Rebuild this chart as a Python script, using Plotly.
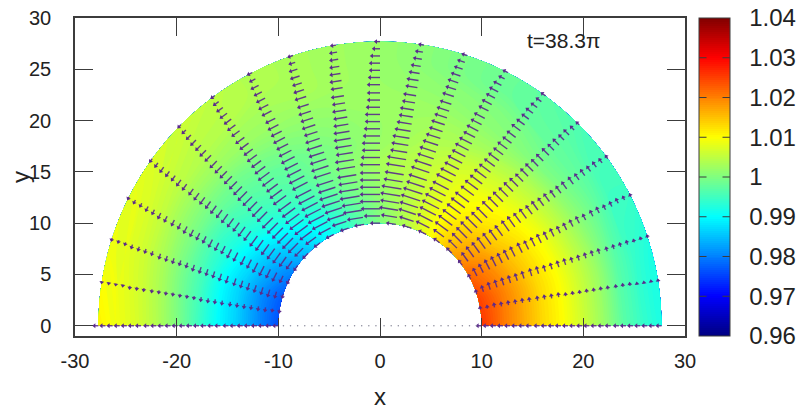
import math
import plotly.graph_objects as go

# ---- data ----
FIELD_R = [10, 12, 14, 16, 18, 20, 22, 24, 26, 27.7]
FIELD_THETA = [0, 15, 30, 45, 60, 75, 90, 105, 120, 135, 150, 165, 180]
FIELD_Z = [
    [1.026, 1.025, 1.022, 1.017, 1.010, 1.004, 1.000, 0.995, 0.990, 0.985, 0.980, 0.977, 0.976],
    [1.021, 1.021, 1.019, 1.015, 1.010, 1.005, 1.001, 0.997, 0.992, 0.988, 0.984, 0.981, 0.981],
    [1.017, 1.017, 1.015, 1.012, 1.009, 1.005, 1.002, 0.999, 0.995, 0.992, 0.988, 0.986, 0.986],
    [1.013, 1.013, 1.012, 1.010, 1.008, 1.005, 1.003, 1.000, 0.997, 0.995, 0.992, 0.990, 0.990],
    [1.010, 1.010, 1.009, 1.007, 1.006, 1.004, 1.002, 1.000, 0.998, 0.997, 0.995, 0.995, 0.995],
    [1.006, 1.006, 1.005, 1.004, 1.003, 1.003, 1.002, 1.001, 1.000, 0.999, 0.999, 0.999, 1.000],
    [1.002, 1.002, 1.001, 1.000, 1.001, 1.002, 1.002, 1.002, 1.002, 1.002, 1.002, 1.003, 1.004],
    [0.997, 0.997, 0.998, 0.998, 1.000, 1.001, 1.002, 1.003, 1.003, 1.004, 1.005, 1.006, 1.007],
    [0.994, 0.994, 0.995, 0.997, 0.998, 1.000, 1.002, 1.003, 1.004, 1.005, 1.007, 1.008, 1.009],
    [0.992, 0.992, 0.995, 0.996, 0.998, 1.000, 1.002, 1.003, 1.004, 1.006, 1.008, 1.009, 1.011],
]
ARROW_R = [10.0, 10.7, 11.4, 12.1, 12.8, 13.5, 14.2, 14.9, 15.7, 16.4, 17.1, 17.8, 18.5,
           19.2, 19.9, 20.6, 21.3, 22.0, 22.7, 23.5, 24.2, 24.9, 25.6, 26.3, 27.0, 27.7]
# arrow length (tenths of an x unit) per spoke angle, inner radius to outer radius
ARROW_LEN = {
    0:   [1] * 26,
    9:   [2, 2, 3, 3, 3, 3, 3, 3, 3, 3, 3, 3, 2, 2, 2, 2, 2, 2, 2, 2, 2, 2, 1, 1, 1, 1],
    18:  [3, 5, 6, 6, 6, 6, 6, 6, 6, 6, 5, 5, 5, 5, 4, 4, 4, 4, 4, 3, 3, 3, 3, 2, 2, 2],
    27:  [4, 7, 8, 9, 9, 9, 9, 9, 9, 8, 8, 8, 7, 7, 6, 6, 6, 6, 5, 5, 5, 4, 4, 4, 3, 2],
    36:  [5, 9, 11, 11, 12, 12, 11, 11, 11, 11, 10, 10, 9, 9, 8, 8, 7, 7, 7, 7, 6, 6, 5, 5, 4, 3],
    45:  [6, 10, 12, 13, 14, 14, 13, 13, 13, 12, 12, 11, 11, 10, 9, 9, 9, 8, 8, 8, 7, 7, 6, 6, 4, 3],
    54:  [6, 11, 14, 15, 15, 15, 15, 15, 14, 14, 13, 13, 12, 11, 11, 10, 10, 9, 9, 9, 8, 7, 7, 6, 5, 4],
    63:  [7, 13, 15, 16, 17, 17, 16, 16, 16, 15, 14, 14, 13, 13, 12, 11, 11, 10, 10, 9, 9, 8, 8, 7, 5, 4],
    72:  [8, 13, 16, 17, 18, 18, 17, 17, 17, 16, 15, 15, 14, 13, 12, 12, 11, 11, 10, 10, 9, 9, 8, 7, 6, 4],
    81:  [8, 14, 17, 17, 18, 18, 17, 17, 17, 17, 15, 15, 15, 14, 13, 12, 12, 11, 11, 10, 10, 9, 8, 7, 6, 4],
    90:  [8, 14, 17, 18, 18, 18, 18, 18, 18, 17, 16, 16, 15, 14, 13, 13, 12, 11, 11, 11, 10, 9, 9, 8, 6, 4],
    99:  [8, 14, 17, 17, 18, 18, 17, 17, 17, 17, 15, 15, 15, 14, 13, 12, 12, 11, 11, 10, 10, 9, 8, 7, 6, 4],
    108: [7, 13, 16, 16, 17, 17, 16, 16, 16, 16, 15, 14, 14, 13, 12, 12, 11, 11, 10, 10, 9, 8, 8, 7, 5, 4],
    117: [7, 12, 15, 16, 16, 16, 16, 16, 15, 15, 14, 13, 13, 12, 11, 11, 10, 10, 9, 9, 9, 8, 7, 7, 5, 4],
    126: [6, 11, 13, 14, 15, 15, 14, 14, 14, 13, 12, 12, 12, 11, 10, 10, 9, 9, 9, 8, 8, 7, 7, 6, 5, 3],
    135: [6, 10, 12, 13, 13, 13, 13, 13, 12, 12, 11, 11, 11, 10, 9, 9, 8, 8, 8, 7, 7, 6, 6, 5, 4, 3],
    144: [5, 8, 10, 11, 11, 11, 11, 11, 10, 10, 9, 9, 9, 8, 8, 7, 7, 7, 6, 6, 6, 5, 5, 5, 4, 3],
    153: [4, 6, 8, 8, 9, 9, 8, 8, 8, 8, 7, 7, 7, 6, 6, 6, 6, 5, 5, 5, 5, 4, 4, 3, 3, 2],
    162: [3, 5, 6, 6, 6, 6, 6, 6, 6, 6, 5, 5, 5, 5, 4, 4, 4, 4, 4, 3, 3, 3, 3, 2, 2, 2],
    171: [2, 2, 3, 3, 3, 3, 3, 3, 3, 3, 3, 3, 2, 2, 2, 2, 2, 2, 2, 2, 2, 2, 1, 1, 1, 1],
    180: [1] * 26,
}
CENTER_DOTS_X = [-9.5, -8.8, -8.1, -7.4, -6.7, -6, -5.3, -4.6, -3.9, -3.2, -2.5, -1.8, -1.1, -0.4,
                 0.4, 1.1, 1.8, 2.5, 3.2, 3.9, 4.6, 5.3, 6, 6.7, 7.4, 8.1, 8.8, 9.5]
COLOR_TICKS = [0.96, 0.97, 0.98, 0.99, 1, 1.01, 1.02, 1.03, 1.04]
COLOR_TICK_TEXT = ["0.96", "0.97", "0.98", "0.99", "1", "1.01", "1.02", "1.03", "1.04"]
AXIS_X_TICKS = [-30, -20, -10, 0, 10, 20, 30]
AXIS_X_TEXT = ["-30", "-20", "-10", "0", "10", "20", "30"]
AXIS_Y_TICKS = [0, 5, 10, 15, 20, 25, 30]
ANNOTATION = "t=38.3π"

JET = [[0, "#000080"], [0.125, "#0000ff"], [0.25, "#0080ff"], [0.375, "#00ffff"],
       [0.5, "#80ff80"], [0.625, "#ffff00"], [0.75, "#ff8000"], [0.875, "#ff0000"], [1, "#800000"]]
FONT = "Liberation Sans, Arial, sans-serif"
INK = "#3c3c3c"
ARROW = "#5a2a8c"
BAR_X = 1.023

grid_x = [[r * math.cos(math.radians(t)) for t in FIELD_THETA] for r in FIELD_R]
grid_y = [[r * math.sin(math.radians(t)) for t in FIELD_THETA] for r in FIELD_R]

hidden_axis = dict(showgrid=False, showline=False, showticklabels="none", smoothing=1,
                   startline=False, endline=False, minorgridcount=0)
fig = go.Figure()
fig.add_trace(go.Carpet(a=FIELD_THETA, b=FIELD_R, x=grid_x, y=grid_y, carpet="polar",
                        aaxis=hidden_axis, baxis=hidden_axis))
fig.add_trace(go.Contourcarpet(
    a=FIELD_THETA, b=FIELD_R, z=FIELD_Z, carpet="polar",
    autocontour=False,
    contours=dict(start=0.96, end=1.04, size=0.0005, coloring="fill", showlines=False),
    line=dict(width=0),
    colorscale=JET, zmin=0.96, zmax=1.04,
    colorbar=dict(
        x=BAR_X, xanchor="left", y=0, yanchor="bottom", len=1.0, lenmode="fraction",
        thickness=31, thicknessmode="pixels", outlinecolor=INK, outlinewidth=1,
        tickvals=COLOR_TICKS, ticktext=["\u00a0\u00a0" + t for t in COLOR_TICK_TEXT], ticks="",
        tickfont=dict(family=FONT, size=24, color="#222"), ypad=0, xpad=0,
    ),
))

line_x, line_y, head_x, head_y, head_ang = [], [], [], [], []
for th, lengths in ARROW_LEN.items():
    c, s = math.cos(math.radians(th)), math.sin(math.radians(th))
    for r, ln in zip(ARROW_R, lengths):
        x0, y0 = r * c, r * s
        x1, y1 = x0 - s * ln / 10, y0 + c * ln / 10
        if th in (0, 180):
            x1, y1 = x0 - ln / 2.5, y0
        line_x += [x0, x1, None]
        line_y += [y0, y1, None]
        head_x.append(x1)
        head_y.append(y1)
        head_ang.append(-th if th not in (0, 180) else -90)

fig.add_trace(go.Scatter(x=line_x, y=line_y, mode="lines", line=dict(color=ARROW, width=1.4),
                         opacity=0.9, hoverinfo="skip", showlegend=False))
fig.add_trace(go.Scatter(x=head_x, y=head_y, mode="markers", hoverinfo="skip", showlegend=False,
                         marker=dict(symbol="triangle-up", size=4.2, color=ARROW, angle=head_ang, line=dict(width=0))))
fig.add_trace(go.Scatter(x=CENTER_DOTS_X, y=[0] * len(CENTER_DOTS_X), mode="markers", hoverinfo="skip",
                         showlegend=False, marker=dict(size=1.5, color="#8a8a9a")))

axis_common = dict(showgrid=False, zeroline=False, showline=True, linecolor=INK, linewidth=1.5,
                   ticks="inside", ticklen=18, tickwidth=1.2, tickcolor=INK, mirror="allticks",
                   tickfont=dict(family=FONT, size=20, color="#222"))
annotations = [
    dict(x=18, y=27.8, xref="x", yref="y", text=ANNOTATION, showarrow=False,
         font=dict(family=FONT, size=21, color="#222")),
    dict(x=-55 / 610, y=0.5, xref="paper", yref="paper", text="y", textangle=-90, showarrow=False,
         xanchor="center", yanchor="middle", font=dict(family=FONT, size=24, color="#222")),
]
for v in COLOR_TICKS[1:-1]:
    for base, ax in ((BAR_X, 9), (BAR_X + 31 / 610, -9)):
        annotations.append(dict(x=base, y=(v - 0.96) / 0.08, xref="paper", yref="paper", text="",
                                showarrow=True, arrowhead=0, arrowwidth=1, arrowcolor=INK,
                                ax=ax, ay=0, axref="pixel", ayref="pixel", standoff=0, startstandoff=0))
fig.update_layout(
    width=808, height=410, margin=dict(l=75, r=123, t=18, b=74, autoexpand=False),
    paper_bgcolor="white", plot_bgcolor="white", showlegend=False,
    xaxis=dict(range=[-30, 30], tickvals=AXIS_X_TICKS, ticktext=AXIS_X_TEXT, ticklabelstandoff=6, **axis_common,
               title=dict(text="x", font=dict(family=FONT, size=24, color="#222"), standoff=19)),
    yaxis=dict(range=[-1, 30], tickvals=AXIS_Y_TICKS, ticklabelstandoff=18, **axis_common),
    annotations=annotations,
)
fig.write_html("out.html", config={"displayModeBar": False},
               post_script="document.body.style.margin='0';document.body.style.overflow='hidden';")
